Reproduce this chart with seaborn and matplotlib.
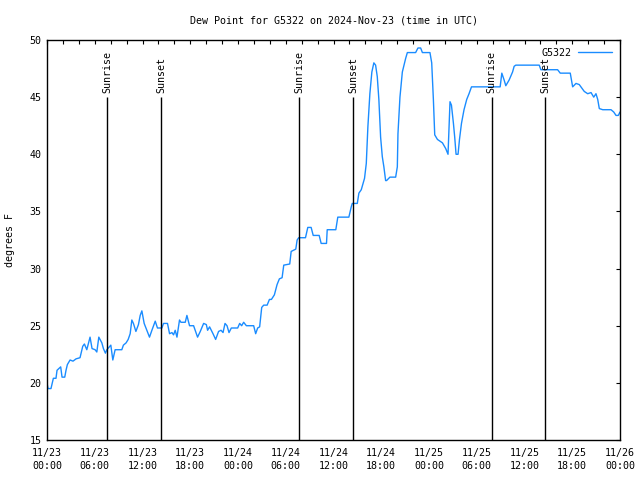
import matplotlib
matplotlib.use("Agg")
import matplotlib.pyplot as plt
import seaborn as sns
import pandas as pd

# hours since 2024-11-23 00:00 UTC
hours = [0.0, 0.13, 0.5, 0.8, 1.13, 1.26, 1.72, 1.89, 2.23, 2.39, 2.56, 2.9, 3.27, 3.65, 4.15,
         4.49, 4.7, 5.0, 5.41, 5.66, 6.04, 6.26, 6.51, 6.89, 7.09, 7.34, 7.52, 8.02, 8.27, 8.56,
         9.4, 9.6, 9.94, 10.2, 10.45, 10.66, 10.86, 11.17, 11.49, 11.71, 11.92, 12.21, 12.55,
         12.88, 13.18, 13.6, 13.88, 14.44, 14.64, 15.14, 15.4, 15.7, 15.9, 16.11, 16.33, 16.65,
         16.83, 17.37, 17.58, 17.91, 18.42, 18.92, 19.26, 19.68, 20.02, 20.18, 20.43, 20.86,
         21.19, 21.56, 21.87, 22.12, 22.37, 22.62, 22.87, 23.16, 23.96, 24.21, 24.46, 24.71,
         25.05, 25.97, 26.22, 26.47, 26.72, 26.98, 27.23, 27.66, 27.95, 28.2, 28.57, 28.91,
         29.2, 29.54, 29.75, 30.5, 30.68, 31.26, 31.43, 31.63, 32.48, 32.77, 33.19, 33.45,
         34.2, 34.45, 35.12, 35.21, 36.29, 36.54, 37.93, 38.23, 38.36, 38.99, 39.19, 39.49,
         39.74, 39.9, 40.12, 40.32, 40.57, 40.82, 41.07, 41.29, 41.5, 41.7, 41.92, 42.13,
         42.33, 42.55, 42.67, 43.09, 43.81, 44.02, 44.1, 44.35, 44.65, 45.07, 45.28, 46.32,
         46.61, 46.95, 47.17, 48.12, 48.34, 48.55, 48.72, 49.06, 49.69, 50.1, 50.39, 50.64,
         50.82, 51.07, 51.23, 51.4, 51.65, 51.83, 52.08, 52.4, 52.74, 53.03, 53.34, 56.94,
         57.15, 57.44, 57.65, 58.07, 58.5, 58.7, 58.91, 61.85, 62.06, 64.16, 64.49, 65.75,
         66.05, 66.47, 66.88, 67.51, 67.94, 68.36, 68.7, 68.98, 69.2, 69.4, 69.83, 70.46,
         70.87, 71.21, 71.5, 71.79, 72.0]
dewpoint = [20.0, 19.5, 19.5, 20.4, 20.4, 21.1, 21.4, 20.5, 20.5, 21.1, 21.6, 22.0, 21.9, 22.1, 22.2,
            23.2, 23.4, 22.9, 24.0, 23.0, 22.9, 22.7, 24.0, 23.5, 23.0, 22.6, 22.9, 23.3, 22.0, 22.9,
            22.9, 23.3, 23.5, 23.8, 24.3, 25.5, 25.2, 24.5, 25.1, 25.9, 26.3, 25.2, 24.6,
            24.0, 24.6, 25.4, 24.8, 24.8, 25.2, 25.2, 24.3, 24.4, 24.2, 24.6, 24.0, 25.5,
            25.3, 25.3, 25.9, 25.0, 25.0, 24.0, 24.5, 25.2, 25.1, 24.6, 24.9, 24.3,
            23.8, 24.5, 24.6, 24.4, 25.2, 25.0, 24.4, 24.8, 24.8, 25.2, 25.0, 25.3,
            25.0, 25.0, 24.3, 24.8, 24.9, 26.6, 26.8, 26.8, 27.3, 27.3, 27.7, 28.6,
            29.1, 29.2, 30.3, 30.4, 31.5, 31.7, 32.5, 32.7, 32.7, 33.6, 33.6, 32.9,
            32.9, 32.2, 32.2, 33.4, 33.4, 34.5, 34.5, 35.4, 35.7, 35.7, 36.6, 36.9,
            37.5, 37.9, 39.2, 42.4, 45.3, 47.2, 48.0, 47.8, 46.8, 44.8, 41.5, 39.8,
            38.9, 37.7, 37.7, 38.0, 38.0, 38.9, 41.8, 45.0, 47.2, 48.4, 48.9, 48.9,
            49.3, 49.3, 48.9, 48.9, 48.0, 44.8, 41.7, 41.3, 41.0, 40.5, 40.0, 44.6,
            44.3, 42.7, 41.5, 40.0, 40.0, 41.3, 42.7, 43.9, 44.8, 45.3, 45.9, 45.9,
            47.1, 46.5, 46.0, 46.5, 47.2, 47.7, 47.8, 47.8, 47.4, 47.4, 47.1, 47.1,
            45.9, 46.2, 46.1, 45.5, 45.3, 45.4, 45.0, 45.3, 44.8, 44.0, 43.9, 43.9,
            43.9, 43.7, 43.4, 43.4, 43.7]

sun_events = ["Sunrise", "Sunset", "Sunrise", "Sunset", "Sunrise", "Sunset"]
sun_hours = [7.55, 14.35, 31.7, 38.5, 55.9, 62.6]

tick_hours = list(range(0, 73, 6))
tick_labels = ["11/23\n00:00", "11/23\n06:00", "11/23\n12:00", "11/23\n18:00",
               "11/24\n00:00", "11/24\n06:00", "11/24\n12:00", "11/24\n18:00",
               "11/25\n00:00", "11/25\n06:00", "11/25\n12:00", "11/25\n18:00",
               "11/26\n00:00"]
y_ticks = [15, 20, 25, 30, 35, 40, 45, 50]

sns.set_theme(style="white")
plt.rcParams['font.family'] = ['DejaVu Sans Mono']
plt.rcParams['text.color'] = 'black'
plt.rcParams['axes.labelcolor'] = 'black'
plt.rcParams['xtick.color'] = 'black'
plt.rcParams['ytick.color'] = 'black'
FS = 7.2

df = pd.DataFrame({"hours": hours, "dewpoint": dewpoint})

fig = plt.figure(figsize=(6.4, 4.8), dpi=100)
ax = fig.add_axes([47/640, 40/480, 573/640, 400/480])

sns.lineplot(data=df, x="hours", y="dewpoint", ax=ax, color="#1a8cff",
             linewidth=1.0, label="G5322")

for name, h in zip(sun_events, sun_hours):
    ax.vlines(h, 15, 45, color="black", linewidth=1.0)
    ax.text(h, 45.4, name, rotation=90, ha="center", va="bottom", fontsize=FS,
            color="black")

ax.set_xlim(0, 72)
ax.set_ylim(15, 50)
ax.set_xticks(tick_hours)
ax.set_xticklabels(tick_labels, fontsize=FS, linespacing=1.35)
ax.set_xticks(list(range(0, 73, 2)), minor=True)
ax.set_yticks(y_ticks)
ax.set_yticklabels([str(v) for v in y_ticks], fontsize=FS)
ax.tick_params(which="both", direction="in", top=True, right=True, length=3.2,
               width=0.8, color="black", labelcolor="black", pad=4)
ax.tick_params(axis="x", which="major", pad=6)
for s in ax.spines.values():
    s.set_color("black")
    s.set_linewidth(1.0)

ax.set_xlabel("")
ax.set_ylabel("degrees F", fontsize=FS, color="black")
ax.yaxis.set_label_coords(-0.055, 0.5)
ax.set_title("Dew Point for G5322 on 2024-Nov-23 (time in UTC)", fontsize=FS, pad=12,
             color="black")

leg = ax.legend(loc="upper right", frameon=False, fontsize=FS, markerfirst=False,
                handlelength=3.4, borderaxespad=0.4, handletextpad=0.6)
for t in leg.get_texts():
    t.set_color("black")

fig.savefig("out.png", dpi=100)
